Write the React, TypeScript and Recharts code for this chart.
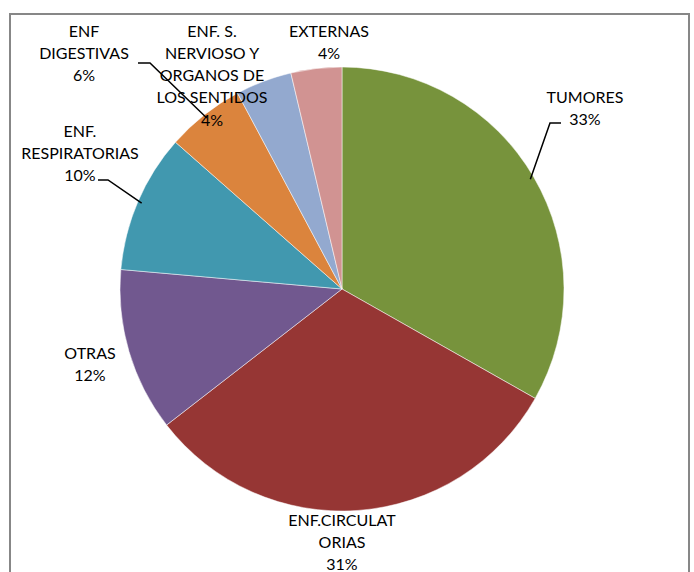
import React from 'react';
import { PieChart, Pie, Cell } from 'recharts';

// causes of death, share of total (%)
const CATEGORIES = [
    'TUMORES',
    'ENF.CIRCULATORIAS',
    'OTRAS',
    'ENF. RESPIRATORIAS',
    'ENF DIGESTIVAS',
    'ENF. S. NERVIOSO Y ORGANOS DE LOS SENTIDOS',
    'EXTERNAS',
];
const VALUES = [33.2, 31.3, 11.9, 10.1, 5.7, 4.1, 3.7];
// how the label text is broken in the original
const LABEL_LINES = [
    ['TUMORES'],
    ['ENF.CIRCULAT', 'ORIAS'],
    ['OTRAS'],
    ['ENF.', 'RESPIRATORIAS'],
    ['ENF', 'DIGESTIVAS'],
    ['ENF. S.', 'NERVIOSO Y', 'ORGANOS DE', 'LOS SENTIDOS'],
    ['EXTERNAS'],
];
const COLORS = ['#77933C', '#963634', '#71588F', '#4198AF', '#DB843D', '#93A9CF', '#D19392'];

type Pt = [number, number];
// label anchor (center of first line) and optional leader elbow/end
const LABEL_LAYOUT: { x: number; y: number; elbow?: Pt; end?: Pt }[] = [
    { x: 585, y: 96, elbow: [550, 123], end: [561, 123] },
    { x: 342, y: 519 },
    { x: 90, y: 352 },
    { x: 80, y: 130, elbow: [108, 180], end: [98, 180] },
    { x: 84, y: 30, elbow: [150, 63], end: [138, 63] },
    { x: 212, y: 30 },
    { x: 329, y: 30 },
];

const FONT = "Lato, 'Open Sans', sans-serif";
const RADIAN = Math.PI / 180;
const LINE_H = 22.3;

const data = CATEGORIES.map((name, i) => ({ name, value: VALUES[i] }));
const total = VALUES.reduce((s, v) => s + v, 0);

const renderLabel = (props: any) => {
    const { index, cx, cy, midAngle, outerRadius, value } = props;
    const layout = LABEL_LAYOUT[index];
    const lines = [...LABEL_LINES[index], `${Math.round((value / total) * 100)}%`];
    let leader = null;
    if (layout.elbow && layout.end) {
        const sx = cx + (outerRadius - 4) * Math.cos(-midAngle * RADIAN);
        const sy = cy + (outerRadius - 4) * Math.sin(-midAngle * RADIAN);
        leader = (
            <polyline
                points={`${sx},${sy} ${layout.elbow[0]},${layout.elbow[1]} ${layout.end[0]},${layout.end[1]}`}
                fill="none"
                stroke="#000"
                strokeWidth={1.5}
            />
        );
    }
    return (
        <g key={`lbl-${index}`}>
            {leader}
            <text
                x={layout.x}
                y={layout.y}
                textAnchor="middle"
                fontFamily={FONT}
                fontSize={16}
                fill="#000"
            >
                {lines.map((l, k) => (
                    <tspan key={k} x={layout.x} y={layout.y + k * LINE_H} dominantBaseline="central">
                        {l}
                    </tspan>
                ))}
            </text>
        </g>
    );
};

export default function App() {
    return (
        <div style={{ position: 'fixed', left: 0, top: 0, width: 694, height: 572, background: '#fff', overflow: 'hidden' }}>
            <div
                style={{
                    position: 'absolute',
                    left: 9,
                    top: 13,
                    width: 677,
                    height: 620,
                    border: '2px solid #878787',
                }}
            />
            <div style={{ position: 'absolute', left: 0, top: 0 }}>
                <PieChart width={694} height={572} margin={{ top: 0, right: 0, bottom: 0, left: 0 }}>
                    <Pie
                        data={data}
                        dataKey="value"
                        nameKey="name"
                        cx={342}
                        cy={289}
                        outerRadius={222}
                        startAngle={90}
                        endAngle={-270}
                        stroke="#fff"
                        strokeWidth={0.5}
                        label={renderLabel}
                        labelLine={false}
                        isAnimationActive={false}
                    >
                        {data.map((d, i) => (
                            <Cell key={d.name} fill={COLORS[i]} />
                        ))}
                    </Pie>
                </PieChart>
            </div>
        </div>
    );
}
